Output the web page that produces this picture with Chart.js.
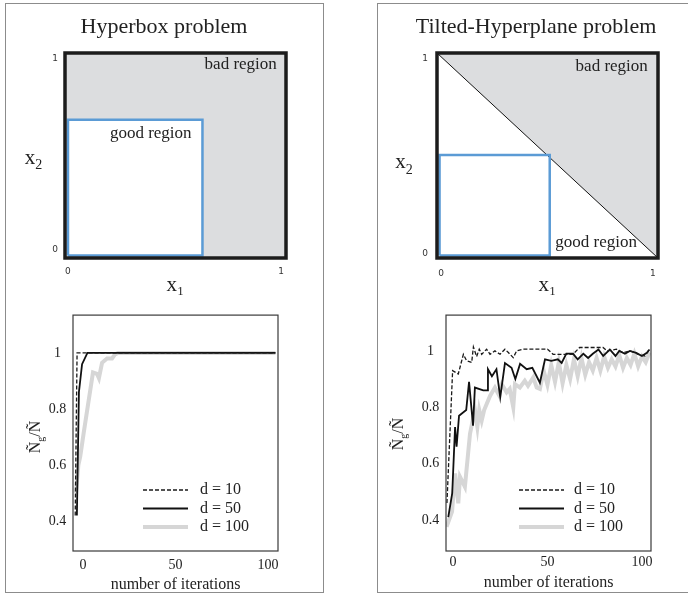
<!DOCTYPE html>
<html>
<head>
<meta charset="utf-8">
<script src="https://cdn.jsdelivr.net/npm/chart.js@4.4.1/dist/chart.umd.min.js"></script>
<style>
  html, body { margin: 0; padding: 0; background: #fff; overflow: hidden; }
  #page { position: relative; width: 688px; height: 595px; overflow: hidden; }
  .panel { position: absolute; border: 1px solid #8c8c8c; box-sizing: border-box; }
  canvas { position: absolute; }
</style>
</head>
<body>
<div id="page">
  <div class="panel" style="left:5px;top:3px;width:319px;height:590px"></div>
  <div class="panel" style="left:377px;top:3px;width:330px;height:590px"></div>
  <canvas id="boxChart" width="318" height="300" style="left:5px;top:5px"></canvas>
  <canvas id="planeChart" width="316" height="300" style="left:378px;top:5px"></canvas>
  <canvas id="boxRun" width="318" height="295" style="left:5px;top:300px"></canvas>
  <canvas id="planeRun" width="306" height="295" style="left:378px;top:300px"></canvas>
</div>
<script>
// region sketches (unit square)
var regionTicks = [0, 1];
var boxXRange = [-0.014, 1.023];
var boxYRange = [-0.042, 1.031];
var boxGoodX = [0, 0.631];
var boxGoodY = [-0.029, 0.682];

var planeXRange = [-0.019, 1.024];
var planeYRange = [-0.021, 1.031];
var planeGoodX = [-0.007, 0.513];
var planeGoodY = [-0.008, 0.507];

// convergence runs
var seriesLabels = ['d = 10', 'd = 50', 'd = 100'];
var runXTicks = [0, 50, 100];
var runYTicks = [0.4, 0.6, 0.8, 1];
var runYLabels = ['0.4', '0.6', '0.8', '1'];

var boxIter10 = [-4.2, -3.2, 104];
var boxVal10 = [0.42, 1.0, 1.0];
var boxIter50 = [-3.3, -2.2, -0.5, 2.4, 104];
var boxVal50 = [0.42, 0.86, 0.96, 1.0, 1.0];
var boxIter100 = [-3.8, -2.5, -1.5, 0.5, 5.4, 7.6, 8.6, 10.3, 13, 15.7, 17.3, 18.9, 104];
var boxVal100 = [0.5, 0.6, 0.63, 0.72, 0.93, 0.925, 0.91, 0.965, 0.98, 0.98, 0.995, 1.0, 1.0];

var planeIter10 = [-3.2, -0.2, 2.8, 5.5, 7.2, 9.9, 10.8, 12.5, 13.9, 15.2, 17.8, 19.6, 22.2, 24.9, 27.5, 29.3, 31.9, 33.7, 37.2, 50, 53, 63.5, 67, 79.4, 81.5, 86.5, 90, 93.7, 98, 101.6, 104];
var planeVal10 = [0.46, 0.93, 0.918, 0.988, 0.965, 0.959, 1.014, 0.98, 1.006, 0.988, 1.006, 0.988, 1.0, 0.988, 1.006, 0.994, 0.976, 1.0, 1.006, 1.006, 0.988, 0.988, 1.012, 1.012, 1.0, 1.006, 0.994, 1.0, 0.988, 0.982, 1.006];
var planeIter50 = [-2.5, -0.4, 1.1, 1.9, 3.2, 7, 8.5, 10.6, 11.6, 16, 18, 18.5, 20.6, 23, 25, 27.5, 31, 33, 35.5, 39, 42, 46, 48.7, 52, 55.5, 57.5, 60, 63.5, 66, 69, 71.5, 74, 77, 79.5, 83, 86, 88, 91, 93.6, 97, 100, 102.6, 104];
var planeVal50 = [0.41, 0.495, 0.73, 0.66, 0.77, 0.79, 0.89, 0.735, 0.87, 0.86, 0.86, 0.935, 0.91, 0.935, 0.835, 0.957, 0.94, 0.90, 0.954, 0.935, 0.94, 0.887, 0.97, 0.965, 0.97, 0.957, 0.99, 0.99, 0.97, 0.99, 0.975, 0.99, 1.005, 0.982, 1.005, 0.982, 1.0, 0.99, 1.0, 0.993, 0.982, 0.993, 1.005];
var planeIter100 = [-3.4, -0.5, 1.1, 2.8, 3.7, 6.3, 9, 10.8, 11.6, 12.9, 13.9, 15.2, 16.5, 19.6, 22.2, 24, 25.8, 28.4, 30, 31.9, 32.8, 35.4, 38, 39.7, 42.5, 44.3, 46, 48, 50, 52, 54, 56, 58, 60, 62, 64, 66, 68, 70, 72, 74, 76, 78, 80, 82, 84, 86, 88, 90, 92, 94, 96, 98, 100, 102, 104];
var planeVal100 = [0.376, 0.43, 0.565, 0.459, 0.553, 0.518, 0.706, 0.765, 0.79, 0.73, 0.79, 0.753, 0.79, 0.84, 0.87, 0.847, 0.882, 0.853, 0.865, 0.80, 0.882, 0.87, 0.894, 0.876, 0.906, 0.87, 0.865, 0.93, 0.88, 0.95, 0.89, 0.96, 0.885, 0.95, 0.9, 0.97, 0.91, 0.975, 0.915, 0.96, 0.93, 0.975, 0.93, 0.98, 0.94, 0.97, 0.945, 0.985, 0.94, 0.975, 0.95, 0.99, 0.945, 0.98, 0.96, 0.995];

var SERIF = "'Liberation Serif', 'DejaVu Serif', serif";
var SANS = "'DejaVu Sans', sans-serif";
var INK = '#222';
var BLUE = '#5b9bd5';
var SHADE = '#dcdddf';

function pts(xs, ys) {
  return xs.map(function(x, i) { return {x: x, y: ys[i]}; });
}
function rect(xr, yr) {
  return [{x: xr[0], y: yr[0]}, {x: xr[0], y: yr[1]}, {x: xr[1], y: yr[1]}, {x: xr[1], y: yr[0]}, {x: xr[0], y: yr[0]}];
}
function fixedTicks(values) {
  return function(scale) { scale.ticks = values.map(function(v) { return {value: v}; }); };
}

// shaded plot area + frame around it
var boxFrame = {
  id: 'boxFrame',
  beforeDatasetsDraw: function(chart, args, opts) {
    if (!opts.fill) return;
    var a = chart.chartArea, ctx = chart.ctx;
    ctx.save();
    ctx.fillStyle = opts.fill;
    ctx.fillRect(a.left, a.top, a.right - a.left, a.bottom - a.top);
    ctx.restore();
  },
  afterDatasetsDraw: function(chart, args, opts) {
    var a = chart.chartArea, ctx = chart.ctx;
    ctx.save();
    ctx.strokeStyle = opts.color;
    ctx.lineWidth = opts.width;
    ctx.strokeRect(a.left, a.top, a.right - a.left, a.bottom - a.top);
    ctx.restore();
  }
};

// y label with a subscript (x2, N_g/N)
var sideLabel = {
  id: 'sideLabel',
  afterDraw: function(chart, args, o) {
    var a = chart.chartArea, ctx = chart.ctx;
    var small = Math.round(o.size * 0.65);
    ctx.save();
    ctx.fillStyle = INK;
    ctx.textBaseline = 'alphabetic';
    ctx.textAlign = 'left';
    ctx.font = o.size + 'px ' + SERIF;
    var w1 = ctx.measureText(o.base).width, w3 = ctx.measureText(o.tail).width;
    ctx.font = small + 'px ' + SERIF;
    var w2 = ctx.measureText(o.sub).width;
    var x = -(w1 + w2 + w3) / 2;
    ctx.translate(a.left + o.dx, (a.top + a.bottom) / 2 + o.dy);
    if (o.rotate) ctx.rotate(-Math.PI / 2);
    ctx.font = o.size + 'px ' + SERIF;
    ctx.fillText(o.base, x, 0);
    ctx.font = small + 'px ' + SERIF;
    ctx.fillText(o.sub, x + w1, o.size * 0.28);
    ctx.font = o.size + 'px ' + SERIF;
    ctx.fillText(o.tail, x + w1 + w2, 0);
    ctx.restore();
  }
};

// text notes placed in data space
var notes = {
  id: 'notes',
  afterDatasetsDraw: function(chart, args, o) {
    var ctx = chart.ctx, sx = chart.scales.x, sy = chart.scales.y;
    ctx.save();
    ctx.fillStyle = INK;
    ctx.font = o.size + 'px ' + SERIF;
    ctx.textAlign = 'right';
    ctx.textBaseline = 'middle';
    o.items.forEach(function(it) {
      ctx.fillText(it.text, sx.getPixelForValue(it.x), sy.getPixelForValue(it.y));
    });
    ctx.restore();
  }
};

// legend inside the plot, lower right
var insetLegend = {
  id: 'insetLegend',
  afterDatasetsDraw: function(chart, args, o) {
    var a = chart.chartArea, ctx = chart.ctx;
    ctx.save();
    chart.data.datasets.forEach(function(ds, i) {
      var y = a.bottom - o.bottom + i * o.gap;
      ctx.strokeStyle = ds.borderColor;
      ctx.lineWidth = ds.borderWidth;
      ctx.setLineDash(ds.borderDash || []);
      ctx.beginPath();
      ctx.moveTo(a.left + o.lineX, y);
      ctx.lineTo(a.left + o.lineX + o.lineLen, y);
      ctx.stroke();
      ctx.setLineDash([]);
      ctx.fillStyle = INK;
      ctx.font = o.size + 'px ' + SERIF;
      ctx.textBaseline = 'middle';
      ctx.fillText(ds.label, a.left + o.textX, y);
    });
    ctx.restore();
  }
};

function regionChart(id, cfg) {
  return new Chart(document.getElementById(id), {
    type: 'scatter',
    data: {datasets: cfg.datasets},
    options: {
      animation: false,
      responsive: false,
      layout: {padding: {left: cfg.pad, right: cfg.pad, top: 0, bottom: 0}},
      plugins: {
        legend: {display: false},
        tooltip: {enabled: false},
        title: {
          display: true, text: cfg.title, color: INK,
          font: {family: SERIF, size: 22, weight: 'normal'},
          padding: {top: 8.8, bottom: 12.8}
        },
        boxFrame: {fill: cfg.shade, color: '#1c1c1c', width: 3.5},
        sideLabel: {base: 'x', sub: '2', tail: '', size: 21, dx: cfg.labelDx, dy: cfg.labelDy, rotate: false},
        notes: {size: 17, items: cfg.notes}
      },
      scales: {
        x: {
          type: 'linear', min: cfg.xRange[0], max: cfg.xRange[1],
          afterBuildTicks: fixedTicks(regionTicks),
          afterFit: function(s) { s.height = 47; },
          grid: {display: false, drawTicks: false}, border: {display: false},
          ticks: {font: {family: SANS, size: 9}, color: '#333', padding: cfg.xTickPad,
                  callback: function(v) { return String(v); }},
          title: {display: true, text: 'x₁', color: INK, font: {family: SERIF, size: 21},
                  padding: {top: 0, bottom: 6.5}}
        },
        y: {
          type: 'linear', min: cfg.yRange[0], max: cfg.yRange[1],
          afterBuildTicks: fixedTicks(regionTicks),
          afterFit: function(s) { s.width = cfg.yWidth; },
          grid: {display: false, drawTicks: false}, border: {display: false},
          ticks: {font: {family: SANS, size: 9}, color: '#333', padding: cfg.yTickPad,
                  callback: function(v) { return String(v); }}
        }
      }
    },
    plugins: [boxFrame, sideLabel, notes]
  });
}

function lineSet(label, xs, ys, color, width, dash) {
  return {
    label: label, data: pts(xs, ys), borderColor: color, borderWidth: width,
    borderDash: dash, pointRadius: 0, tension: 0, fill: false
  };
}

function runChart(id, cfg) {
  return new Chart(document.getElementById(id), {
    type: 'line',
    data: {datasets: [
      lineSet(seriesLabels[0], cfg.it10, cfg.v10, '#1a1a1a', 1.3, [4, 2]),
      lineSet(seriesLabels[1], cfg.it50, cfg.v50, '#111', 1.8, []),
      lineSet(seriesLabels[2], cfg.it100, cfg.v100, '#d6d6d6', 4, [])
    ]},
    options: {
      animation: false,
      responsive: false,
      layout: {padding: {left: 0, right: cfg.padRight, top: 14, bottom: 0}},
      plugins: {
        legend: {display: false},
        tooltip: {enabled: false},
        boxFrame: {fill: null, color: '#3a3a3a', width: 1.2},
        sideLabel: {base: 'Ñ', sub: 'g', tail: '/Ñ', size: 16, dx: cfg.labelDx, dy: cfg.labelDy, rotate: true},
        insetLegend: {size: 16, bottom: 61, gap: 18.5, lineX: cfg.legLineX, lineLen: 45, textX: cfg.legTextX}
      },
      scales: {
        x: {
          type: 'linear', min: cfg.xRange[0], max: cfg.xRange[1],
          afterBuildTicks: fixedTicks(runXTicks),
          afterFit: function(s) { s.height = 44; },
          grid: {display: false, drawTicks: false}, border: {display: false},
          ticks: {font: {family: SERIF, size: 14}, color: INK, padding: cfg.xTickPad,
                  callback: function(v) { return String(v); }},
          title: {display: true, text: 'number of iterations', color: INK,
                  font: {family: SERIF, size: 16}, padding: {top: 0, bottom: cfg.titlePad}}
        },
        y: {
          type: 'linear', min: cfg.yRange[0], max: cfg.yRange[1],
          afterBuildTicks: fixedTicks(runYTicks),
          afterFit: function(s) { s.width = 68; },
          grid: {display: false, drawTicks: false}, border: {display: false},
          ticks: {font: {family: SERIF, size: 14}, color: INK, padding: 6.7, crossAlign: 'center',
                  callback: function(v, i) { return runYLabels[i]; }}
        }
      }
    },
    plugins: [boxFrame, sideLabel, insetLegend]
  });
}

regionChart('boxChart', {
  title: 'Hyperbox problem', pad: 37, yWidth: 23,
  xRange: boxXRange, yRange: boxYRange, shade: SHADE,
  xTickPad: 8.6, yTickPad: 7, labelDx: -31.5, labelDy: 8,
  datasets: [{
    label: 'good region', data: rect(boxGoodX, boxGoodY), showLine: true,
    borderColor: BLUE, borderWidth: 2.5, backgroundColor: '#fff', fill: 'shape',
    pointRadius: 0, clip: false
  }],
  notes: [{text: 'bad region', x: 0.98, y: 0.97}, {text: 'good region', x: 0.58, y: 0.61}]
});

regionChart('planeChart', {
  title: 'Tilted-Hyperplane problem', pad: 36, yWidth: 23,
  xRange: planeXRange, yRange: planeYRange, shade: null,
  xTickPad: 10.6, yTickPad: 9, labelDx: -33, labelDy: 12.5,
  datasets: [{
    label: 'good region', data: rect(planeGoodX, planeGoodY), showLine: true,
    borderColor: BLUE, borderWidth: 2.5, fill: false, pointRadius: 0, clip: false
  }, {
    label: 'hyperplane', showLine: true, borderColor: '#111', borderWidth: 1,
    data: [{x: planeXRange[0], y: planeYRange[1]}, {x: planeXRange[1], y: planeYRange[0]}],
    fill: false, pointRadius: 0, clip: false
  }, {
    label: 'bad region', showLine: true, borderColor: 'transparent', borderWidth: 0,
    backgroundColor: SHADE, fill: 'shape', pointRadius: 0,
    data: [{x: planeXRange[0], y: planeYRange[1]}, {x: planeXRange[1], y: planeYRange[1]},
           {x: planeXRange[1], y: planeYRange[0]}, {x: planeXRange[0], y: planeYRange[1]}]
  }],
  notes: [{text: 'bad region', x: 0.976, y: 0.96}, {text: 'good region', x: 0.925, y: 0.056}]
});

runChart('boxRun', {
  it10: boxIter10, v10: boxVal10, it50: boxIter50, v50: boxVal50, it100: boxIter100, v100: boxVal100,
  xRange: [-5.4, 105.4], yRange: [0.293, 1.135], padRight: 45,
  xTickPad: 5.6, titlePad: 0.4, labelDx: -33, labelDy: 4, legLineX: 70, legTextX: 127
});

runChart('planeRun', {
  it10: planeIter10, v10: planeVal10, it50: planeIter50, v50: planeVal50, it100: planeIter100, v100: planeVal100,
  xRange: [-3.7, 104.8], yRange: [0.29, 1.127], padRight: 33,
  xTickPad: 2.6, titlePad: 2.4, labelDx: -43, labelDy: 1, legLineX: 73, legTextX: 128
});
</script>
</body>
</html>
